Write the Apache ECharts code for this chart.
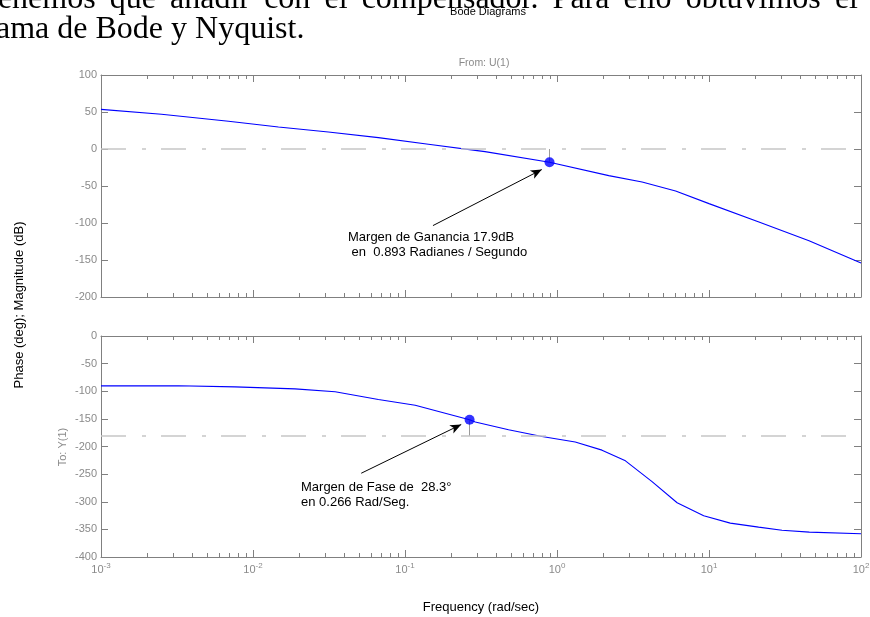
<!DOCTYPE html>
<html>
<head>
<meta charset="utf-8">
<script src="https://cdn.jsdelivr.net/npm/echarts@6/dist/echarts.min.js"></script>
<style>
  html, body { margin: 0; padding: 0; background: #ffffff; }
  #chart { width: 870px; height: 617px; }
</style>
</head>
<body>
<div id="chart"></div>
<script>
// ---- Open-loop frequency response (compensated system) ----
// Magnitude: frequency in rad/s, gain in dB
const magFreq = [0.001, 0.0025, 0.0069, 0.0147, 0.0313, 0.0668, 0.1426, 0.29, 0.336, 0.893, 2.19, 3.63, 6.03, 10, 21.3, 45.5, 100];
const magDb   = [53.6, 46.9, 37.4, 29.7, 23.0, 15.4, 6.4, -1.8, -3.6, -17.9, -36, -44.6, -56.7, -73.8, -98.6, -124, -154];

// Phase: frequency in rad/s, phase in degrees
const phaseFreq = [0.001, 0.00323, 0.0076, 0.0189, 0.0347, 0.0668, 0.1167, 0.266, 0.29, 0.48, 0.796, 1.318, 1.977, 2.82, 4.22, 6.17, 9.23, 13.8, 21.2, 30.2, 45.7, 100];
const phaseDeg  = [-90.2, -90, -92, -95.7, -101, -115, -125.4, -151.7, -155.7, -169.6, -181.8, -192, -206.6, -226, -263.6, -301.8, -325.4, -338.7, -346, -351.5, -355, -358];

// Stability margins
const gainMarginFreq = 0.893;       // rad/s
const gainMarginDb = 17.9;          // dB
const phaseMarginFreq = 0.266;      // rad/s
const phaseMarginDeg = 28.3;        // degrees

// Axis tick definitions
const decadeExps = [-3, -2, -1, 0, 1, 2];
const magAxis = { min: -200, max: 100, step: 50 };
const phaseAxis = { min: -400, max: 0, step: 50 };

// ---- helpers ----
const lg = Math.log10;
const minorLogs = [];
for (let n = decadeExps[0]; n < decadeExps[decadeExps.length - 1]; n++) {
  for (let k = 2; k <= 9; k++) minorLogs.push(n + lg(k));
}

const AX = '#808080';
const LABEL = '#8a8a8a';
const SANS = "'Liberation Sans', Arial, Helvetica, sans-serif";
const SERIF = "'Liberation Serif', 'Times New Roman', serif";

const grids = [
  { left: 101, top: 75, width: 760, height: 222, outerBoundsMode: 'none', containLabel: false },
  { left: 101, top: 336, width: 760, height: 221, outerBoundsMode: 'none', containLabel: false }
];

function xAxesFor(gi, withLabels) {
  const base = {
    type: 'value', gridIndex: gi,
    min: decadeExps[0], max: decadeExps[decadeExps.length - 1], interval: 1,
    splitLine: { show: false }
  };
  const majorTick = { show: true, inside: true, length: 7, lineStyle: { color: AX, width: 1 } };
  const minorTick = { show: true, inside: true, length: 4, customValues: minorLogs, lineStyle: { color: AX, width: 1 } };
  return [
    Object.assign({}, base, {
      position: 'bottom',
      axisLine: { show: true, onZero: false, lineStyle: { color: AX, width: 1 } },
      axisTick: majorTick,
      axisLabel: {
        show: withLabels, margin: 5, color: LABEL,
        formatter: v => '{b|10}{s|' + Math.round(v) + '}',
        rich: {
          b: { fontSize: 11, fontFamily: SANS, color: LABEL },
          s: { fontSize: 8, fontFamily: SANS, color: LABEL, padding: [0, 0, 8, 0] }
        }
      }
    }),
    Object.assign({}, base, {
      position: 'bottom',
      axisLine: { show: false, onZero: false },
      axisTick: minorTick,
      axisLabel: { show: false }
    }),
    Object.assign({}, base, {
      position: 'top',
      axisLine: { show: true, onZero: false, lineStyle: { color: AX, width: 1 } },
      axisTick: majorTick,
      axisLabel: { show: false }
    }),
    Object.assign({}, base, {
      position: 'top',
      axisLine: { show: false, onZero: false },
      axisTick: minorTick,
      axisLabel: { show: false }
    })
  ];
}

function yAxesFor(gi, range) {
  const base = {
    type: 'value', gridIndex: gi, min: range.min, max: range.max, interval: range.step,
    splitLine: { show: false },
    axisLine: { show: true, onZero: false, lineStyle: { color: AX, width: 1 } },
    axisTick: { show: true, inside: true, length: 7, lineStyle: { color: AX, width: 1 } }
  };
  return [
    Object.assign({}, base, {
      position: 'left',
      axisLabel: { show: true, margin: 4, color: LABEL, fontSize: 11, fontFamily: SANS }
    }),
    Object.assign({}, base, {
      position: 'right',
      axisLabel: { show: false }
    })
  ];
}

const xAxis = xAxesFor(0, false).concat(xAxesFor(1, true));
const yAxis = yAxesFor(0, magAxis).concat(yAxesFor(1, phaseAxis));

const refLine = { color: '#c6c6c6', width: 1.6, type: [25, 16, 4, 15] };
const stemLine = { color: '#9a9a9a', width: 1, type: 'solid' };
const arrowLine = { color: '#000000', width: 1, type: 'solid' };

const gmX = lg(gainMarginFreq), gmY = -gainMarginDb;
const pmX = lg(phaseMarginFreq), pmY = -180 + phaseMarginDeg;

const series = [
  {
    type: 'line', name: 'Magnitude', xAxisIndex: 0, yAxisIndex: 0,
    data: magFreq.map((f, i) => [lg(f), magDb[i]]),
    showSymbol: false, symbol: 'none', z: 3,
    lineStyle: { color: '#0000ff', width: 1.1 },
    markLine: {
      silent: true, symbol: ['none', 'none'], label: { show: false }, animation: false,
      data: [
        { yAxis: 0, lineStyle: refLine },
        [{ coord: [gmX, gmY], lineStyle: stemLine }, { coord: [gmX, 0] }],
        [{ coord: [-0.816, -103.5], lineStyle: arrowLine, symbol: 'none' },
         { coord: [gmX - 0.051, gmY - 9.9], symbol: 'arrow', symbolSize: [7, 11] }]
      ]
    }
  },
  {
    type: 'scatter', name: 'Gain margin', xAxisIndex: 0, yAxisIndex: 0,
    data: [[gmX, gmY]], symbol: 'circle', symbolSize: 10, z: 5,
    itemStyle: { color: '#0000ff' }
  },
  {
    type: 'line', name: 'Phase', xAxisIndex: 4, yAxisIndex: 2,
    data: phaseFreq.map((f, i) => [lg(f), phaseDeg[i]]),
    showSymbol: false, symbol: 'none', z: 3,
    lineStyle: { color: '#0000ff', width: 1.1 },
    markLine: {
      silent: true, symbol: ['none', 'none'], label: { show: false }, animation: false,
      data: [
        { yAxis: -180, lineStyle: refLine },
        [{ coord: [pmX, pmY], lineStyle: stemLine }, { coord: [pmX, -180] }],
        [{ coord: [-1.288, -248.4], lineStyle: arrowLine, symbol: 'none' },
         { coord: [pmX - 0.055, pmY - 8.5], symbol: 'arrow', symbolSize: [7, 11] }]
      ]
    }
  },
  {
    type: 'scatter', name: 'Phase margin', xAxisIndex: 4, yAxisIndex: 2,
    data: [[pmX, pmY]], symbol: 'circle', symbolSize: 10, z: 5,
    itemStyle: { color: '#0000ff' }
  }
];

// ---- surrounding page text (justified first line) ----
const bodyLine1 = ['tenemos', 'que', 'añadir', 'con', 'el', 'compensador.', 'Para', 'ello', 'obtuvimos', 'el'];
const bodyLine2 = 'ama de Bode y Nyquist.';
const bodySize = 32;
const bodyFont = bodySize + 'px ' + SERIF;

function justifiedWords(words, x0, x1, yMid) {
  const ctx = document.createElement('canvas').getContext('2d');
  ctx.font = bodyFont;
  const widths = words.map(w => ctx.measureText(w).width);
  const total = widths.reduce((a, b) => a + b, 0);
  const gap = (x1 - x0 - total) / (words.length - 1);
  let x = x0;
  return words.map((w, i) => {
    const el = {
      type: 'text', x: x, y: yMid, z: 0, silent: true,
      style: { text: w, font: bodyFont, fill: '#000', textAlign: 'left', align: 'left', textVerticalAlign: 'middle', verticalAlign: 'middle' }
    };
    x += widths[i] + gap;
    return el;
  });
}

function txt(text, x, y, opts) {
  return Object.assign({
    type: 'text', x: x, y: y, silent: true, z: 10,
    style: Object.assign({
      text: text, fill: '#000', font: '11px ' + SANS,
      textAlign: 'center', align: 'center', textVerticalAlign: 'middle', verticalAlign: 'middle'
    }, opts && opts.style || {})
  }, opts && opts.el || {});
}

const annoStyle = { font: '13px ' + SANS, textAlign: 'left', align: 'left', textVerticalAlign: 'middle', verticalAlign: 'middle' };

const graphic = [].concat(
  justifiedWords(bodyLine1, -11, 858, 10 - 0.3375 * bodySize),
  [
    { type: 'text', x: -4, y: 40 - 0.3375 * bodySize, z: 0, silent: true,
      style: { text: bodyLine2, font: bodyFont, fill: '#000', textAlign: 'left', align: 'left', textVerticalAlign: 'middle', verticalAlign: 'middle' } },
    txt('Bode Diagrams', 488, 12, { style: { font: '11px ' + SANS } }),
    txt('From: U(1)', 484, 63, { style: { fill: LABEL, font: '10.5px ' + SANS } }),
    txt('To: Y(1)', 63, 447, { el: { rotation: Math.PI / 2 }, style: { fill: LABEL, font: '11px ' + SANS } }),
    txt('Phase (deg); Magnitude (dB)', 19, 305, { el: { rotation: Math.PI / 2 }, style: { font: '13px ' + SANS } }),
    txt('Frequency (rad/sec)', 481, 607, { style: { font: '13px ' + SANS } }),
    txt('Margen de Ganancia ' + gainMarginDb + 'dB', 348, 237, { style: annoStyle }),
    txt(' en  ' + gainMarginFreq + ' Radianes / Segundo', 348, 252, { style: annoStyle }),
    txt('Margen de Fase de  ' + phaseMarginDeg + '°', 301, 487, { style: annoStyle }),
    txt('en ' + phaseMarginFreq + ' Rad/Seg.', 301, 502.5, { style: annoStyle })
  ]
);

const chart = echarts.init(document.getElementById('chart'), null, { renderer: 'canvas' });
chart.setOption({
  animation: false,
  backgroundColor: '#ffffff',
  grid: grids,
  xAxis: xAxis,
  yAxis: yAxis,
  series: series,
  graphic: graphic
});
</script>
</body>
</html>
